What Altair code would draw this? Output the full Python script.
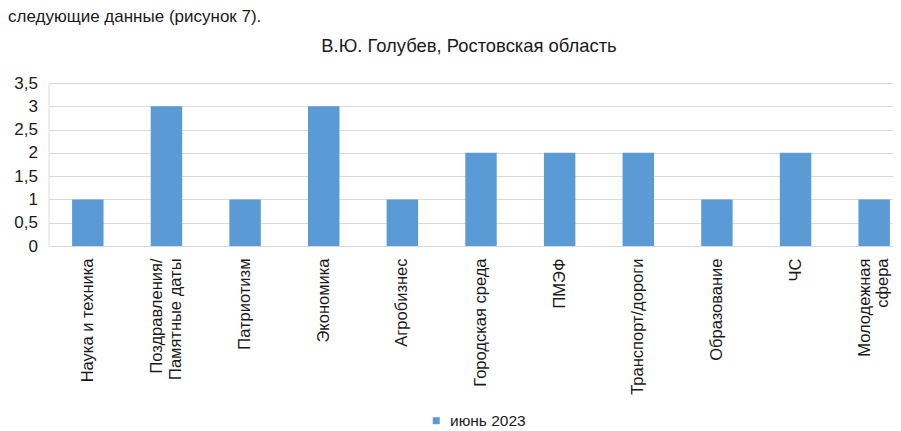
import altair as alt
import pandas as pd

categories = [
    "Наука и техника",
    "Поздравления/\nПамятные даты",
    "Патриотизм",
    "Экономика",
    "Агробизнес",
    "Городская среда",
    "ПМЭФ",
    "Транспорт/дороги",
    "Образование",
    "ЧС",
    "Молодежная\nсфера",
]
values = [1, 3, 1, 3, 1, 2, 2, 2, 1, 2, 1]
series_name = "июнь 2023"
chart_title = "В.Ю. Голубев, Ростовская область"
intro_text = "следующие данные (рисунок 7)."
y_ticks = [0, 0.5, 1, 1.5, 2, 2.5, 3, 3.5]

FONT = "Liberation Sans"
TEXT_COLOR = "#1a1a1a"
GRID = "#D9D9D9"
BAR = "#5B9BD5"

df = pd.DataFrame({"cat": categories, "val": values, "series": [series_name] * len(values)})

# multi-line labels; a shorter second line is centred under the first (as in the original)
label_expr = (
    "datum.label == 'Молодежная\\nсфера' ? ['Молодежная', 'сфера\u00a0\u00a0\u00a0\u00a0\u00a0'] : "
    "split(datum.label, '\\n')"
)

bars = alt.Chart(df).mark_bar(color=BAR).encode(
    x=alt.X(
        "cat:N",
        sort=None,
        title=None,
        scale=alt.Scale(range=[0, 865], paddingInner=0.6, paddingOuter=0.3),
        axis=alt.Axis(
            labelAngle=-90,
            labelAlign="right",
            labelBaseline="middle",
            labelPadding=12,
            labelFontSize=16.5,
            labelFont=FONT,
            labelColor=TEXT_COLOR,
            labelLineHeight=18.5,
            labelLimit=0,
            labelExpr=label_expr,
            labelOffset={
                "condition": {"test": "indexof(datum.value, '\\n') >= 0", "value": -9.25},
                "value": 0,
            },
            ticks=False,
            domainColor=GRID,
            domainWidth=1,
            grid=False,
        ),
    ),
    y=alt.Y(
        "val:Q",
        title=None,
        scale=alt.Scale(domain=[0, 3.5], nice=False),
        axis=alt.Axis(
            values=y_ticks,
            labelExpr="replace(toString(datum.value), '.', ',')",
            labelFontSize=17,
            labelFont=FONT,
            labelColor=TEXT_COLOR,
            labelPadding=11,
            ticks=False,
            domain=False,
            gridColor=GRID,
            gridWidth=1,
        ),
    ),
    color=alt.Color(
        "series:N",
        scale=alt.Scale(range=[BAR]),
        legend=alt.Legend(
            title=None,
            orient="none",
            legendX=380,
            legendY=330,
            symbolType="square",
            symbolSize=49,
            symbolStrokeWidth=0,
            labelFontSize=15.5,
            labelFont=FONT,
            labelColor=TEXT_COLOR,
            labelOffset=6,
            padding=0,
        ),
    ),
)

title_df = pd.DataFrame({"t": [chart_title]})
title_mark = alt.Chart(title_df).mark_text(
    font=FONT, fontSize=18.4, color=TEXT_COLOR, align="center", baseline="alphabetic"
).encode(text="t:N", x=alt.value(420.5), y=alt.value(-31))

intro_df = pd.DataFrame({"t": [intro_text]})
intro_mark = alt.Chart(intro_df).mark_text(
    font=FONT, fontSize=17, color=TEXT_COLOR, align="left", baseline="top"
).encode(text="t:N", x=alt.value(-40.5), y=alt.value(-74))

chart = alt.layer(bars, title_mark, intro_mark).properties(
    width=844.5,
    height=163,
    autosize=alt.AutoSizeParams(type="none"),
    padding={"left": 40.5, "top": 75, "right": 0, "bottom": 185},
).configure_view(stroke=None).configure(background="white")

chart.save("out.html", embed_options={"renderer": "svg", "actions": False})
